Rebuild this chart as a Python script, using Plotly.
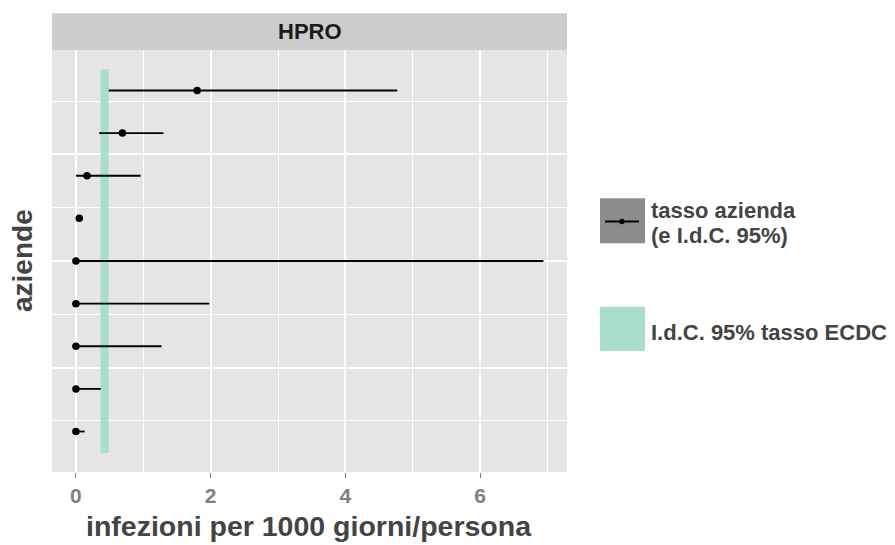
import plotly.graph_objects as go

# ---------------- data ----------------
aziende = [9, 8, 7, 6, 5, 4, 3, 2, 1]          # position id of each azienda (top -> bottom)
tasso = [1.80, 0.69, 0.165, 0.05, 0.0, 0.0, 0.0, 0.0, 0.0]
ic_basso = [0.485, 0.345, 0.0, 0.05, 0.0, 0.0, 0.0, 0.0, 0.0]
ic_alto = [4.77, 1.30, 0.96, 0.05, 6.94, 1.98, 1.27, 0.37, 0.13]
ecdc_basso = [0.366]
ecdc_alto = [0.485]
x_ticks = [0, 2, 4, 6]
x_minor = [1, 3, 5, 7]
y_major = [2.5, 5, 7.5]
y_minor = [1.25, 3.75, 6.25, 8.75]
pannello = "HPRO"
titolo_x = "infezioni per 1000 giorni/persona"
titolo_y = "aziende"
leg_1a = "tasso azienda"
leg_1b = "(e I.d.C. 95%)"
leg_2 = "I.d.C. 95% tasso ECDC"

# ---------------- geometry helpers ----------------
W, H = 895, 545
L, R, T, B = 52, 567, 50, 472
def xp(px):
    return (px - L) / (R - L)
def yp(py):
    return (B - py) / (B - T)

FONT = "Liberation Sans, Arial, sans-serif"
TXT = "#444444"
BAND = "#A8DECA"

y_lo = min(aziende) - 0.5
y_hi = max(aziende) + 0.5

fig = go.Figure()

# ECDC confidence band
fig.add_trace(go.Scatter(
    x=[ecdc_basso[0], ecdc_alto[0], ecdc_alto[0], ecdc_basso[0], ecdc_basso[0]],
    y=[y_lo, y_lo, y_hi, y_hi, y_lo],
    fill="toself", fillcolor=BAND, mode="lines", line=dict(width=0),
    hoverinfo="skip", showlegend=False))

# company rates with CI
fig.add_trace(go.Scatter(
    x=tasso, y=aziende, mode="markers",
    marker=dict(color="black", size=7.5),
    error_x=dict(type="data", symmetric=False,
                 array=[u - t for u, t in zip(ic_alto, tasso)],
                 arrayminus=[t - l for t, l in zip(tasso, ic_basso)],
                 color="black", thickness=1.8, width=0),
    showlegend=False))

shapes = [
    # facet strip
    dict(type="rect", xref="paper", yref="paper", x0=0, x1=1, y0=1, y1=yp(13.3),
         fillcolor="#CCCCCC", line=dict(width=0), layer="above"),
    # legend key 1
    dict(type="rect", xref="paper", yref="paper", x0=xp(600), x1=xp(645),
         y0=yp(243.3), y1=yp(198.3), fillcolor="#8C8C8C", line=dict(width=0)),
    dict(type="line", xref="paper", yref="paper", x0=xp(605), x1=xp(639),
         y0=yp(221.5), y1=yp(221.5), line=dict(color="black", width=1.8)),
    dict(type="circle", xref="paper", yref="paper", x0=xp(619.3), x1=xp(624.7),
         y0=yp(224.2), y1=yp(218.8), fillcolor="black", line=dict(width=0)),
    # legend key 2
    dict(type="rect", xref="paper", yref="paper", x0=xp(600), x1=xp(645),
         y0=yp(351), y1=yp(306.7), fillcolor=BAND, line=dict(width=0)),
]

annotations = [
    dict(text="<b>%s</b>" % pannello, x=0.5, y=yp(31.7), xref="paper", yref="paper",
         showarrow=False, xanchor="center", yanchor="middle",
         font=dict(family=FONT, size=22, color="#1A1A1A")),
    dict(text="<b>%s</b>" % titolo_x, x=xp(308.5), y=yp(525.5), xref="paper", yref="paper",
         showarrow=False, xanchor="center", yanchor="middle",
         font=dict(family=FONT, size=28.5, color=TXT)),
    dict(text="<b>%s</b>" % titolo_y, x=xp(22.5), y=yp(260.5), xref="paper", yref="paper",
         showarrow=False, xanchor="center", yanchor="middle", textangle=-90,
         font=dict(family=FONT, size=28, color=TXT)),
    dict(text="<b>%s</b>" % leg_1a, x=xp(649), y=yp(210.7), xref="paper", yref="paper",
         showarrow=False, xanchor="left", yanchor="middle",
         font=dict(family=FONT, size=22, color=TXT)),
    dict(text="<b>%s</b>" % leg_1b, x=xp(649), y=yp(235.4), xref="paper", yref="paper",
         showarrow=False, xanchor="left", yanchor="middle",
         font=dict(family=FONT, size=22, color=TXT)),
    dict(text="<b>%s</b>" % leg_2, x=xp(649), y=yp(332.4), xref="paper", yref="paper",
         showarrow=False, xanchor="left", yanchor="middle",
         font=dict(family=FONT, size=22, color=TXT)),
]

fig.update_layout(
    width=W, height=H, autosize=False,
    margin=dict(l=L, r=W - R, t=T, b=H - B, pad=0),
    paper_bgcolor="white", plot_bgcolor="#E5E5E5",
    shapes=shapes, annotations=annotations,
    font=dict(family=FONT),
    xaxis=dict(range=[-0.355, 7.29], tickvals=x_ticks, ticktext=[str(v) for v in x_ticks],
               showgrid=True, gridcolor="white", gridwidth=1.6, zeroline=False,
               ticks="outside", ticklen=5, tickwidth=1.2, tickcolor="#7F7F7F",
               tickfont=dict(family=FONT, size=21, color="#808080", weight="bold"),
               minor=dict(tickvals=x_minor, showgrid=True, gridcolor="white", gridwidth=0.8, ticks=""),
               showline=False, fixedrange=True),
    yaxis=dict(range=[0.05, 9.95], tickvals=y_major, showticklabels=False, ticks="",
               showgrid=True, gridcolor="white", gridwidth=1.6, zeroline=False,
               minor=dict(tickvals=y_minor, showgrid=True, gridcolor="white", gridwidth=0.8, ticks=""),
               showline=False, fixedrange=True),
)

fig.write_html("out.html")
